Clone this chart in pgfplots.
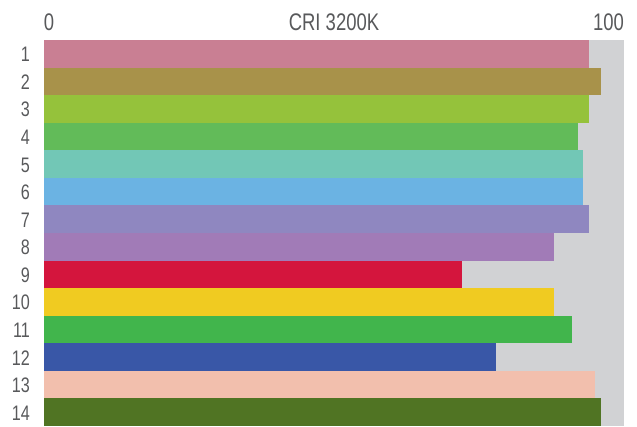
\documentclass[border=0pt]{standalone}
\usepackage{pgfplots}
\pgfplotsset{compat=1.18}
\usepackage{fontspec}
\setmainfont[FakeStretch=0.77]{Liberation Sans}
\definecolor{txt}{HTML}{58595B}
\definecolor{bg}{HTML}{D1D2D4}
\definecolor{c1}{HTML}{C97F93}
\definecolor{c2}{HTML}{A8924A}
\definecolor{c3}{HTML}{95C23B}
\definecolor{c4}{HTML}{62BB59}
\definecolor{c5}{HTML}{72C7B6}
\definecolor{c6}{HTML}{6BB3E3}
\definecolor{c7}{HTML}{8F87C0}
\definecolor{c8}{HTML}{A17BB7}
\definecolor{c9}{HTML}{D4153D}
\definecolor{c10}{HTML}{F0CB21}
\definecolor{c11}{HTML}{41B54C}
\definecolor{c12}{HTML}{3957A7}
\definecolor{c13}{HTML}{F2BFAD}
\definecolor{c14}{HTML}{507423}
\begin{document}
\fontsize{21}{23}\selectfont
\begin{tikzpicture}
\begin{axis}[
  scale only axis,
  width=580pt, height=386pt,
  xmin=0, xmax=100,
  ymin=0.5, ymax=14.5,
  y dir=reverse,
  clip=false,
  axis background/.style={fill=bg},
  axis line style={draw=none},
  tick style={draw=none},
  major tick length=0pt,
  xtick={0,100},
  xticklabels={\makebox[0pt][l]{0},\makebox[0pt][r]{100}},
  xticklabel pos=upper,
  xticklabel style={anchor=base, inner sep=0pt, yshift=10pt, text=txt, font=\fontsize{24}{26}\selectfont},
  ytick={1,...,14},
  yticklabel style={anchor=base east, inner sep=0pt, xshift=-14pt, yshift=-8pt, text=txt, font=\fontsize{21}{23}\selectfont},
  xbar, bar width=1, bar shift=0pt,
  /pgf/number format/assume math mode=true,
]
\addplot[fill=c1, draw=none] coordinates {(94,1)};
\addplot[fill=c2, draw=none] coordinates {(96,2)};
\addplot[fill=c3, draw=none] coordinates {(94,3)};
\addplot[fill=c4, draw=none] coordinates {(92,4)};
\addplot[fill=c5, draw=none] coordinates {(93,5)};
\addplot[fill=c6, draw=none] coordinates {(93,6)};
\addplot[fill=c7, draw=none] coordinates {(94,7)};
\addplot[fill=c8, draw=none] coordinates {(88,8)};
\addplot[fill=c9, draw=none] coordinates {(72,9)};
\addplot[fill=c10, draw=none] coordinates {(88,10)};
\addplot[fill=c11, draw=none] coordinates {(91,11)};
\addplot[fill=c12, draw=none] coordinates {(78,12)};
\addplot[fill=c13, draw=none] coordinates {(95,13)};
\addplot[fill=c14, draw=none] coordinates {(96,14)};
\node[anchor=base, text=txt, inner sep=0pt, font=\fontsize{24}{26}\selectfont] at ([yshift=10pt]rel axis cs:0.5,1) {CRI 3200K};
\end{axis}
\pgfresetboundingbox
\path[use as bounding box] ([xshift=-44pt]current axis.south west) rectangle ([xshift=13pt,yshift=40pt]current axis.north east);
\end{tikzpicture}
\end{document}
